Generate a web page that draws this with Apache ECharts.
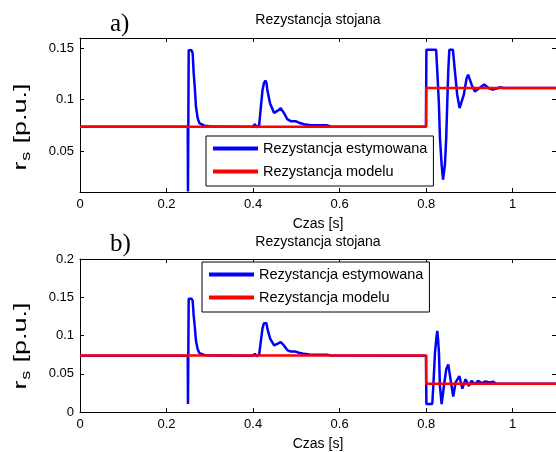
<!DOCTYPE html>
<html>
<head>
<meta charset="utf-8">
<script src="https://cdn.jsdelivr.net/npm/echarts@6/dist/echarts.min.js"></script>
<style>
  html, body { margin: 0; padding: 0; background: #fff; }
  #chart { width: 556px; height: 452px; }
</style>
</head>
<body>
<div id="chart"></div>
<script>
// wspólny początek przebiegu estymowanego (oba wykresy)
const timeStart = [0, 0.249, 0.2495, 0.2505, 0.2512, 0.258, 0.2604, 0.2627, 0.2657, 0.268, 0.2719, 0.2758, 0.2873, 0.295, 0.30,
  0.399, 0.401, 0.404, 0.4085, 0.414, 0.418, 0.4217, 0.425, 0.4285, 0.431, 0.433, 0.4394, 0.4486, 0.456, 0.4638, 0.4716,
  0.479, 0.487, 0.498, 0.506, 0.518, 0.533, 0.571, 0.58, 0.7995];
const estStart = [0.0735, 0.0735, 0.0105, 0.0105, 0.148, 0.148, 0.145, 0.126, 0.109, 0.093, 0.082, 0.077, 0.0746, 0.0743, 0.0737,
  0.0735, 0.072, 0.076, 0.073, 0.075, 0.093, 0.109, 0.116, 0.1185, 0.116, 0.109, 0.096, 0.087, 0.089, 0.0915, 0.0867,
  0.081, 0.079, 0.079, 0.0775, 0.076, 0.075, 0.0749, 0.0738, 0.0735];

// a) skok rezystancji w górę
const timeTailA = [0.8, 0.8005, 0.823, 0.8256, 0.8295, 0.8318, 0.8357, 0.839, 0.8433, 0.8463, 0.8486, 0.851, 0.8535, 0.8618,
  0.8664, 0.8717, 0.8772, 0.8795, 0.887, 0.8935, 0.897, 0.905, 0.9124, 0.917, 0.9256, 0.934, 0.9447, 0.954, 0.964, 0.972, 0.979, 1.1];
const estTailA = [0.0735, 0.1486, 0.1486, 0.128, 0.095, 0.0626, 0.0366, 0.022, 0.0366, 0.0626, 0.095, 0.1276, 0.1486, 0.1486,
  0.1276, 0.1048, 0.0918, 0.0912, 0.1048, 0.121, 0.1243, 0.1145, 0.108, 0.1075, 0.112, 0.1147, 0.111, 0.1098, 0.111, 0.112, 0.1113, 0.1113];
const modelTimeA = [0, 0.8, 0.8, 1.1];
const modelA = [0.0735, 0.0735, 0.1113, 0.1113];

// b) skok rezystancji w dół
const timeTailB = [0.8, 0.8005, 0.814, 0.8165, 0.8203, 0.8233, 0.8256, 0.8275, 0.8295, 0.8318, 0.8357, 0.8394, 0.841, 0.8463,
  0.851, 0.8562, 0.8625, 0.868, 0.8767, 0.8836, 0.891, 0.8986, 0.9048, 0.9124, 0.92, 0.9279, 0.937, 0.946, 0.956, 0.961, 1.1];
const estTailB = [0.074, 0.0104, 0.0104, 0.034, 0.0775, 0.0948, 0.106, 0.0948, 0.0775, 0.034, 0.0104, 0.0104, 0.034, 0.0558,
  0.0622, 0.0429, 0.0202, 0.0386, 0.047, 0.0305, 0.0429, 0.0342, 0.0407, 0.0364, 0.0407, 0.0377, 0.0399, 0.0386, 0.0394, 0.037, 0.037];
const modelTimeB = [0, 0.8, 0.8, 1.1];
const modelB = [0.074, 0.074, 0.037, 0.037];

const xTicks = [0, 0.2, 0.4, 0.6, 0.8, 1];
const yTicksA = [0.05, 0.1, 0.15];
const yTicksB = [0, 0.05, 0.1, 0.15, 0.2];

const FONT = 'Liberation Sans, Arial, sans-serif';
const estName = 'Rezystancja estymowana';
const modelName = 'Rezystancja modelu';

function pairs(t, v) {
  return t.map((x, i) => [x, v[i]]);
}

const timeA = timeStart.concat(timeTailA), estA = estStart.concat(estTailA);
const timeB = timeStart.concat(timeTailB), estB = estStart.concat(estTailB);

function xAxes(grid) {
  const base = {
    gridIndex: grid, type: 'value', min: 0, max: 1.1,
    axisLine: { show: true, onZero: false, lineStyle: { color: '#000', width: 1 } },
    axisTick: { show: true, inside: true, length: 4, customValues: xTicks, lineStyle: { color: '#000' } },
    splitLine: { show: false }
  };
  return [
    Object.assign({}, base, {
      position: 'bottom',
      axisLabel: { customValues: xTicks, margin: 6, color: '#000', fontSize: 13, fontFamily: FONT },
      name: 'Czas [s]', nameLocation: 'middle', nameGap: 25,
      nameTextStyle: { color: '#000', fontSize: 14, fontFamily: FONT }
    }),
    Object.assign({}, base, { position: 'top', axisLabel: { show: false } })
  ];
}

function yAxes(grid, min, max, ticks) {
  const base = {
    gridIndex: grid, type: 'value', min: min, max: max,
    axisLine: { show: true, onZero: false, lineStyle: { color: '#000', width: 1 } },
    axisTick: { show: true, inside: true, length: 4, customValues: ticks, lineStyle: { color: '#000' } },
    splitLine: { show: false }
  };
  return [
    Object.assign({}, base, {
      position: 'left',
      axisLabel: { customValues: ticks, margin: 6, color: '#000', fontSize: 13, fontFamily: FONT }
    }),
    Object.assign({}, base, { position: 'right', axisLabel: { show: false } })
  ];
}

function legendAt(left, top) {
  return {
    data: [estName, modelName], orient: 'vertical', left: left, top: top,
    icon: 'rect', itemWidth: 45, itemHeight: 4, itemGap: 8,
    padding: [5, 6, 7, 7], borderColor: '#000', borderWidth: 1, borderRadius: 0, backgroundColor: '#fff',
    selectedMode: false,
    textStyle: { color: '#000', fontSize: 14.5, fontFamily: FONT }
  };
}

function yLabel(cx, cy) {
  return {
    type: 'group', x: cx, y: cy, rotation: Math.PI / 2, scaleX: 1.5,
    children: [
      { type: 'text', x: -29, y: 0, style: { text: 'r', font: '18px ' + FONT, fill: '#000', verticalAlign: 'middle' } },
      { type: 'text', x: -22.5, y: 6, style: { text: 's', font: '12px ' + FONT, fill: '#000', verticalAlign: 'middle' } },
      { type: 'text', x: -11, y: 0, style: { text: '[p.u.]', font: '18px ' + FONT, fill: '#000', verticalAlign: 'middle' } }
    ]
  };
}

const chart = echarts.init(document.getElementById('chart'), null, { renderer: 'canvas' });
chart.setOption({
  animation: false,
  backgroundColor: '#fff',
  title: [
    { text: 'Rezystancja stojana', left: 318, top: 13, textAlign: 'center', padding: 0,
      textStyle: { fontSize: 14, fontWeight: 'normal', color: '#000', fontFamily: FONT } },
    { text: 'Rezystancja stojana', left: 318, top: 235, textAlign: 'center', padding: 0,
      textStyle: { fontSize: 14, fontWeight: 'normal', color: '#000', fontFamily: FONT } }
  ],
  grid: [
    { left: 80, top: 38, width: 477, height: 154 },
    { left: 80, top: 259, width: 477, height: 154 }
  ],
  xAxis: xAxes(0).concat(xAxes(1)),
  yAxis: yAxes(0, 0.01, 0.16, yTicksA).concat(yAxes(1, 0, 0.2, yTicksB)),
  legend: [legendAt(206, 136), legendAt(202, 262)],
  series: [
    { name: estName, type: 'line', xAxisIndex: 0, yAxisIndex: 0, data: pairs(timeA, estA),
      showSymbol: false, lineStyle: { color: '#0000ff', width: 2.5 }, itemStyle: { color: '#0000ff' }, z: 2 },
    { name: modelName, type: 'line', xAxisIndex: 0, yAxisIndex: 0, data: pairs(modelTimeA, modelA),
      showSymbol: false, lineStyle: { color: '#ff0000', width: 2.5 }, itemStyle: { color: '#ff0000' }, z: 3 },
    { name: estName, type: 'line', xAxisIndex: 2, yAxisIndex: 2, data: pairs(timeB, estB),
      showSymbol: false, lineStyle: { color: '#0000ff', width: 2.5 }, itemStyle: { color: '#0000ff' }, z: 2 },
    { name: modelName, type: 'line', xAxisIndex: 2, yAxisIndex: 2, data: pairs(modelTimeB, modelB),
      showSymbol: false, lineStyle: { color: '#ff0000', width: 2.5 }, itemStyle: { color: '#ff0000' }, z: 3 }
  ],
  graphic: [
    { type: 'text', left: 110, top: 12, style: { text: 'a)', font: '25px Liberation Serif, Times New Roman, serif', fill: '#000' } },
    { type: 'text', left: 110, top: 232, style: { text: 'b)', font: '25px Liberation Serif, Times New Roman, serif', fill: '#000' } },
    yLabel(21, 127),
    yLabel(21, 346)
  ]
});
</script>
</body>
</html>
